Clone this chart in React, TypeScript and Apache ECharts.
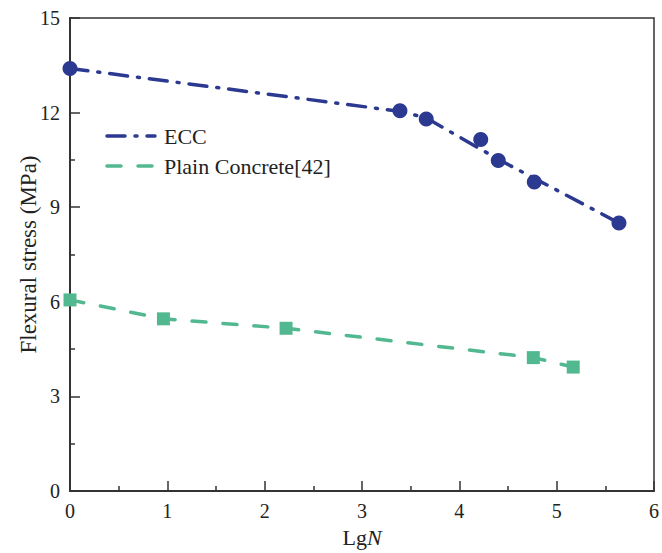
import React, { useEffect, useRef } from "react";
import * as echarts from "echarts";

// ECC measured points
const eccX = [0, 3.39, 3.66, 4.22, 4.4, 4.77, 5.64];
const eccY = [13.4, 12.06, 11.8, 11.15, 10.48, 9.8, 8.5];
// ECC fitted trend line
const eccFitX = [0, 3.39, 3.66, 4.4, 5.64];
const eccFitY = [13.4, 12.04, 11.83, 10.52, 8.5];
// Plain concrete points
const pcX = [0, 0.96, 2.22, 4.76, 5.17];
const pcY = [6.06, 5.46, 5.16, 4.23, 3.93];

const xTicks = [0, 1, 2, 3, 4, 5, 6];
const yTicks = [0, 3, 6, 9, 12, 15];
const legendNames = ["ECC", "Plain Concrete[42]"];

const NAVY = "#2b3990";
const GREEN = "#52b890";
const AXIS = "#333333";
const FONT = "'Liberation Serif', 'Times New Roman', serif";
const ECC_DASH = [18, 10, 2, 10];
const PC_DASH = [14, 17];

export default function App() {
  const ref = useRef<HTMLDivElement>(null);
  useEffect(() => {
    if (!ref.current) return;
    const chart = echarts.init(ref.current, undefined, { renderer: "svg" });
    const pair = (xs: number[], ys: number[]) => xs.map((x, i) => [x, ys[i]]);
    const axisCommon = {
      axisLine: { show: true, lineStyle: { color: AXIS, width: 2 } },
      axisTick: { show: true, inside: true, length: 10, lineStyle: { color: AXIS, width: 1.5 } },
      minorTick: { show: true, splitNumber: 2, length: 5, lineStyle: { color: AXIS, width: 1.5 } },
      splitLine: { show: false },
      axisLabel: { color: "#222", fontFamily: FONT, fontSize: 20, margin: 10 },
    };
    const legendRow = (y: number, color: string, dash: number[], label: string) => [
      {
        type: "line",
        shape: { x1: 107, y1: y, x2: 155, y2: y },
        style: { stroke: color, lineWidth: 3.5, lineDash: dash, lineCap: "round" },
      },
      {
        type: "text",
        x: 164,
        y: y,
        style: {
          text: label,
          fontFamily: FONT,
          fontSize: 22,
          fill: "#222",
          verticalAlign: "middle",
          align: "left",
        },
      },
    ];
    chart.setOption({
      animation: false,
      backgroundColor: "#ffffff",
      grid: {
        left: 70,
        right: 4,
        top: 18,
        bottom: 61,
        show: true,
        borderColor: AXIS,
        borderWidth: 1.5,
      },
      graphic: [
        ...legendRow(136, NAVY, ECC_DASH, legendNames[0]),
        ...legendRow(166, GREEN, PC_DASH, legendNames[1]),
      ],
      xAxis: {
        type: "value",
        min: xTicks[0],
        max: xTicks[xTicks.length - 1],
        interval: 1,
        name: "Lg{i|N}",
        nameLocation: "middle",
        nameGap: 35,
        nameMoveOverlap: false,
        nameTextStyle: {
          fontFamily: FONT,
          fontSize: 22,
          color: "#222",
          rich: { i: { fontFamily: FONT, fontSize: 22, fontStyle: "italic", color: "#222" } },
        },
        ...axisCommon,
      },
      yAxis: {
        type: "value",
        min: yTicks[0],
        max: yTicks[yTicks.length - 1],
        interval: 3,
        name: "Flexural stress (MPa)",
        nameLocation: "middle",
        nameGap: 30,
        nameMoveOverlap: false,
        nameTextStyle: { fontFamily: FONT, fontSize: 23, color: "#222" },
        ...axisCommon,
      },
      series: [
        {
          name: legendNames[0],
          type: "line",
          data: pair(eccFitX, eccFitY),
          symbol: "none",
          lineStyle: { color: NAVY, width: 3.5, type: ECC_DASH, cap: "round" },
          itemStyle: { color: NAVY },
          z: 2,
        },
        {
          name: legendNames[1],
          type: "line",
          data: pair(pcX, pcY),
          symbol: "none",
          lineStyle: { color: GREEN, width: 3.5, type: PC_DASH, cap: "round" },
          itemStyle: { color: GREEN },
          z: 2,
        },
        {
          name: "ECC points",
          type: "scatter",
          data: pair(eccX, eccY),
          symbol: "circle",
          symbolSize: 15,
          itemStyle: { color: NAVY, opacity: 1 },
          z: 3,
        },
        {
          name: "Plain Concrete points",
          type: "scatter",
          data: pair(pcX, pcY),
          symbol: "rect",
          symbolSize: 13,
          itemStyle: { color: GREEN, opacity: 1 },
          z: 3,
        },
      ],
    });
    return () => chart.dispose();
  }, []);
  return (
    <div
      ref={ref}
      style={{ position: "fixed", left: 0, top: 0, width: 662, height: 553 }}
    />
  );
}
